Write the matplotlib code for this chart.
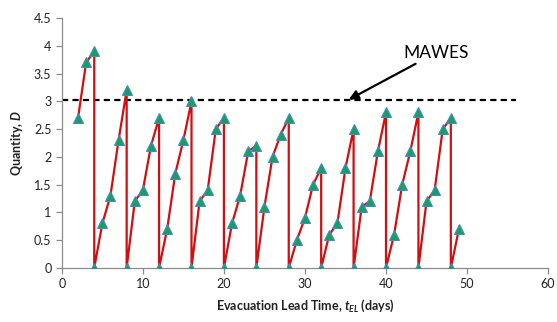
import numpy as np
import matplotlib
matplotlib.use('Agg')
import matplotlib.pyplot as plt

plt.rcParams['font.family'] = ['Lato', 'DejaVu Sans']
plt.rcParams['mathtext.fontset'] = 'custom'
plt.rcParams['mathtext.it'] = 'Lato:italic:bold'
plt.rcParams['mathtext.rm'] = 'Lato:bold'

# evacuation lead time (days) and quantity D, one continuous sawtooth series
t_el = [2, 3, 4, 4, 5, 6, 7, 8, 8, 9, 10, 11, 12, 12, 13, 14, 15, 16, 16,
        17, 18, 19, 20, 20, 21, 22, 23, 24, 24, 25, 26, 27, 28, 28,
        29, 30, 31, 32, 32, 33, 34, 35, 36, 36, 37, 38, 39, 40, 40,
        41, 42, 43, 44, 44, 45, 46, 47, 48, 48, 49]
quantity = [2.7, 3.7, 3.9, 0, 0.8, 1.3, 2.3, 3.2, 0, 1.2, 1.4, 2.2, 2.7, 0,
            0.7, 1.7, 2.3, 3.0, 0, 1.2, 1.4, 2.5, 2.7, 0, 0.8, 1.3, 2.1, 2.2, 0,
            1.1, 2.0, 2.4, 2.7, 0, 0.5, 0.9, 1.5, 1.8, 0, 0.6, 0.8, 1.8, 2.5, 0,
            1.1, 1.2, 2.1, 2.8, 0, 0.6, 1.5, 2.1, 2.8, 0, 1.2, 1.4, 2.5, 2.7, 0, 0.7]

mawes = 3.03
mawes_span = [0, 56]
xticks = [0, 10, 20, 30, 40, 50, 60]
yticks = [0, 0.5, 1, 1.5, 2, 2.5, 3, 3.5, 4, 4.5]

fig = plt.figure(figsize=(5.57, 3.22), dpi=100)
ax = fig.add_axes([0.111, 0.168, 0.873, 0.776])

ax.plot(mawes_span, [mawes, mawes], color='black', lw=1.6, dashes=(2.8, 1.9), zorder=2)
ax.plot(t_el, quantity, color='#d01010', lw=1.6, marker='^', markersize=6.5,
        markerfacecolor='#16a05a', markeredgecolor='#4a86c8', markeredgewidth=0.8, zorder=3)

ax.annotate('MAWES', xy=(35.4, mawes), xytext=(42.1, 3.87), fontsize=12.5,
            va='center', ha='left',
            arrowprops=dict(arrowstyle='-|>', color='black', lw=1.6,
                            mutation_scale=14, shrinkA=0, shrinkB=0))

ax.set_xlim(0, 60)
ax.set_ylim(0, 4.5)
ax.set_xticks(xticks)
ax.set_yticks(yticks)
ax.set_yticklabels([f'{v:g}' for v in yticks])

for s in ['top', 'right']:
    ax.spines[s].set_visible(False)
for s in ['left', 'bottom']:
    ax.spines[s].set_color('#8c8c8c')
    ax.spines[s].set_linewidth(0.9)
ax.tick_params(axis='both', colors='#8c8c8c', labelcolor='#222222', labelsize=9,
               length=4, width=0.9)

ax.set_xlabel(r'Evacuation Lead Time, $t_{EL}$ (days)', fontsize=9, fontweight='bold',
              color='#222222', labelpad=5)
ax.set_ylabel(r'Quantity, $D$', fontsize=9, fontweight='bold', color='#222222', labelpad=6)

fig.savefig('out.png', dpi=100)
